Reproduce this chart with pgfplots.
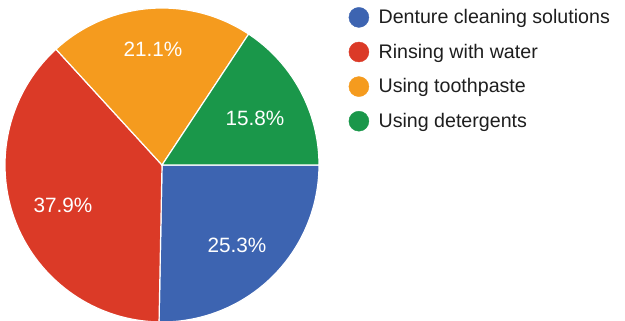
\documentclass[border=0pt]{standalone}
\usepackage{pgfplots}
\pgfplotsset{compat=1.18}
\usepackage{fontspec}
\setmainfont{Liberation Sans}
\definecolor{pblue}{HTML}{3D64B1}
\definecolor{pred}{HTML}{DB3A27}
\definecolor{porange}{HTML}{F59B1E}
\definecolor{pgreen}{HTML}{1A974A}
\definecolor{ltext}{HTML}{1E1E1E}
\begin{document}
\begin{tikzpicture}
\begin{axis}[
  width=625bp, height=321bp, scale only axis,
  xmin=0, xmax=625, ymin=0, ymax=321,
  hide axis, clip=true,
  legend style={at={(axis cs:348.5,314)}, anchor=north west, draw=none, fill=none,
    inner sep=0pt,
    font=\fontsize{19.7}{23}\selectfont, text=ltext, row sep=14.2bp,
    nodes={inner sep=2bp},
    /tikz/every odd column/.append style={column sep=7.5bp}},
  legend cell align=left,
]
\coordinate (SW) at (axis cs:0,0);
\coordinate (NE) at (axis cs:625,321);
% pie slices: Denture 25.3, Rinsing 37.9, Toothpaste 21.1, Detergents 15.8
\filldraw[pblue, draw=white, line width=1.2bp] (axis cs:162,156) -- ++(0:157bp)
  arc[start angle=0, end angle={-3.6*25.3}, radius=157bp] -- cycle;
\filldraw[pred, draw=white, line width=1.2bp] (axis cs:162,156) -- ++({-3.6*25.3}:157bp)
  arc[start angle={-3.6*25.3}, end angle={-3.6*(25.3+37.9)}, radius=157bp] -- cycle;
\filldraw[porange, draw=white, line width=1.2bp] (axis cs:162,156) -- ++({-3.6*(25.3+37.9)}:157bp)
  arc[start angle={-3.6*(25.3+37.9)}, end angle={-3.6*(25.3+37.9+21.1)}, radius=157bp] -- cycle;
\filldraw[pgreen, draw=white, line width=1.2bp] (axis cs:162,156) -- ++({-3.6*(25.3+37.9+21.1)}:157bp)
  arc[start angle={-3.6*(25.3+37.9+21.1)}, end angle=-360, radius=157bp] -- cycle;
\node[white, font=\fontsize{20.8}{24}\selectfont] at (axis cs:237,76) {25.3\%};
\node[white, font=\fontsize{20.8}{24}\selectfont] at (axis cs:63,116) {37.9\%};
\node[white, font=\fontsize{20.8}{24}\selectfont] at (axis cs:153,272) {21.1\%};
\node[white, font=\fontsize{20.8}{24}\selectfont] at (axis cs:255,203) {15.8\%};
\addlegendimage{legend image code/.code={\fill[pblue] (0bp,0bp) circle (10bp);}}
\addlegendentry{Denture cleaning solutions}
\addlegendimage{legend image code/.code={\fill[pred] (0bp,0bp) circle (10bp);}}
\addlegendentry{Rinsing with water}
\addlegendimage{legend image code/.code={\fill[porange] (0bp,0bp) circle (10bp);}}
\addlegendentry{Using toothpaste}
\addlegendimage{legend image code/.code={\fill[pgreen] (0bp,0bp) circle (10bp);}}
\addlegendentry{Using detergents}
\end{axis}
\pgfresetboundingbox
\useasboundingbox (SW) rectangle (NE);
\end{tikzpicture}
\end{document}
